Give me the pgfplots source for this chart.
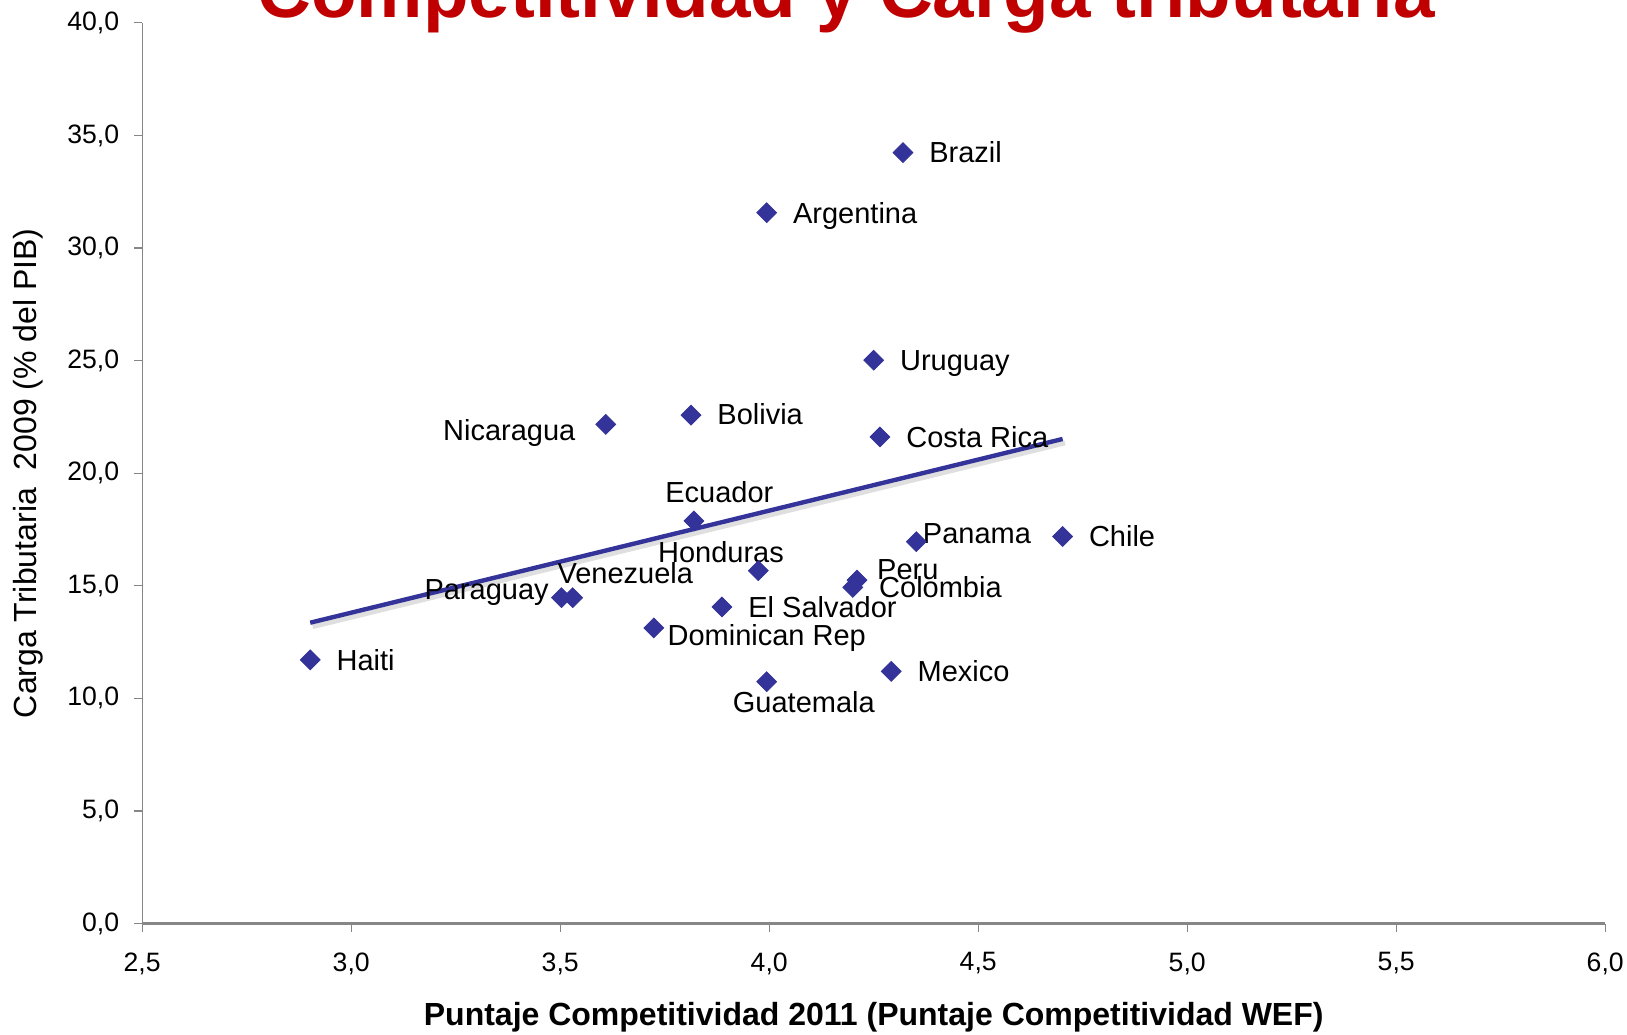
\documentclass[border=0pt]{standalone}
\usepackage{pgfplots}
\pgfplotsset{compat=1.18}
\usepackage{pgfplotstable}
\usepackage{fontspec}
\setmainfont{Liberation Sans}
\definecolor{mk}{HTML}{333399}
\definecolor{ax}{HTML}{868686}
\definecolor{ttl}{HTML}{C00000}

\pgfplotstableread{
x y
4.320 34.24
3.994 31.57
4.250 25.02
3.609 22.17
3.813 22.58
4.265 21.61
3.820 17.88
4.352 16.96
4.702 17.19
3.974 15.67
4.210 15.25
4.200 14.93
3.503 14.47
3.530 14.47
3.887 14.06
3.724 13.13
2.902 11.71
4.292 11.20
3.994 10.74
}\datatable

\pgfplotstableread{
x y
2.902 13.36
4.702 21.52
}\trend

\begin{document}
\begin{tikzpicture}[
  lab/.style={anchor=base west, inner sep=0pt, font=\fontsize{14.5}{14.5}\selectfont},
  labr/.style={anchor=base east, inner sep=0pt, font=\fontsize{14.5}{14.5}\selectfont}]
\begin{axis}[at={(0,0)}, anchor=south west, scale only axis,
  width=731.5pt, height=450.3pt,
  xmin=2.5, xmax=6, ymin=0, ymax=40,
  axis x line=bottom, axis y line=left,
  axis line style={-, draw=ax},
  x axis line style={line width=1.3pt},
  y axis line style={line width=0.6pt},
  tick align=outside, major tick length=4pt,
  tick style={draw=ax, line width=0.6pt},
  xtick={2.5,3.0,3.5,4.0,4.5,5.0,5.5,6.0},
  ytick={0,5,10,15,20,25,30,35,40},
  minor tick num=0,
  ticklabel style={font=\fontsize{13.3}{13.3}\selectfont},
  /pgf/number format/.cd, fixed, fixed zerofill, precision=1, use comma, assume math mode=true,
  /pgfplots/.cd,
  xticklabel style={yshift=-7pt},
  yticklabel style={xshift=-4pt},
  every axis x label/.style={at={(axis description cs:0.5,0)}, anchor=center, yshift=-47pt, font=\fontsize{16}{16}\selectfont\bfseries},
  every axis y label/.style={at={(axis description cs:0,0.5)}, xshift=-57pt, rotate=90, anchor=center, font=\fontsize{16}{16}\selectfont},
  xlabel={Puntaje Competitividad 2011 (Puntaje Competitividad WEF)},
  ylabel={Carga Tributaria\ \ 2009 (\% del PIB)},
  clip=false,
]
\addplot[gray!25, line width=2.4pt, shift={(1.2pt,-2pt)}] table {\trend};
\addplot[mk, line width=2.2pt] table {\trend};
\addplot[only marks, mark=square*, mark size=3.5pt, mark options={rotate=45, fill=mk, draw=mk}] table {\datatable};

\node[lab, xshift=13pt, yshift=-5.2pt] at (axis cs:4.320,34.24) {Brazil};
\node[lab, xshift=13pt, yshift=-5.2pt] at (axis cs:3.994,31.57) {Argentina};
\node[lab, xshift=13pt, yshift=-5.2pt] at (axis cs:4.250,25.02) {Uruguay};
\node[labr, xshift=-15pt, yshift=-8.3pt] at (axis cs:3.609,22.17) {Nicaragua};
\node[lab, xshift=13pt, yshift=-4.7pt] at (axis cs:3.813,22.58) {Bolivia};
\node[lab, xshift=13pt, yshift=-5.2pt] at (axis cs:4.265,21.61) {Costa Rica};
\node[lab, xshift=-14.5pt, yshift=9.3pt] at (axis cs:3.820,17.88) {Ecuador};
\node[lab, xshift=3.1pt, yshift=-1pt] at (axis cs:4.352,16.96) {Panama};
\node[lab, xshift=13pt, yshift=-5.2pt] at (axis cs:4.702,17.19) {Chile};
\node[lab, xshift=-50.3pt, yshift=4.1pt] at (axis cs:3.974,15.67) {Honduras};
\node[lab, xshift=9.9pt, yshift=0.5pt] at (axis cs:4.210,15.25) {Peru};
\node[lab, xshift=13pt, yshift=-5.2pt] at (axis cs:4.200,14.93) {Colombia};
\node[labr, xshift=-6.2pt, yshift=-1pt] at (axis cs:3.503,14.47) {Paraguay};
\node[lab, xshift=-7.8pt, yshift=7.3pt] at (axis cs:3.530,14.47) {Venezuela};
\node[lab, xshift=13pt, yshift=-5.2pt] at (axis cs:3.887,14.06) {El Salvador};
\node[lab, xshift=6.7pt, yshift=-8.8pt] at (axis cs:3.724,13.13) {Dominican Rep};
\node[lab, xshift=13pt, yshift=-5.2pt] at (axis cs:2.902,11.71) {Haiti};
\node[lab, xshift=13pt, yshift=-5.2pt] at (axis cs:4.292,11.20) {Mexico};
\node[lab, xshift=-17.1pt, yshift=-15.6pt] at (axis cs:3.994,10.74) {Guatemala};
\end{axis}
\node[anchor=base, inner sep=0pt, font=\fontsize{37.3}{37.3}\selectfont\bfseries, text=ttl] at (351.9pt,453.1pt) {Competitividad y Carga tributaria};
\pgfresetboundingbox
\useasboundingbox (-71.1pt,-55.25pt) rectangle (742.4pt,461.75pt);
\end{tikzpicture}
\end{document}
